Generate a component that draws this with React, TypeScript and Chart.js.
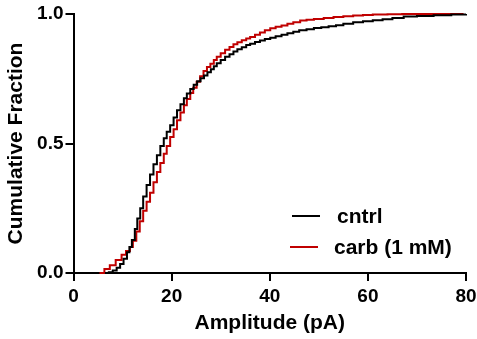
import React, { useEffect, useRef } from "react";
import { Chart, registerables } from "chart.js";

Chart.register(...registerables);

const cntrlAmp = [6.4, 7.2, 8.0, 8.8, 9.5, 10.2, 10.9, 11.4, 11.9, 12.5, 13.0, 13.6, 14.2, 14.9, 15.6, 16.3, 17.0, 17.7, 18.4, 19.0, 19.7, 20.4, 21.1, 21.8, 22.5, 23.1, 23.8, 24.5, 25.2, 25.9, 26.6, 27.3, 28.0, 28.6, 29.2, 30.0, 30.9, 31.8, 32.6, 33.4, 34.3, 35.2, 36.0, 37, 38, 39, 40.1, 41.2, 42.4, 43.6, 44.8, 46, 47.5, 49, 50.5, 52, 53.5, 55, 57, 59, 61, 63, 65, 67.3, 70, 73.4, 77, 80];
const cntrlFrac = [0, 0.003, 0.01, 0.02, 0.035, 0.055, 0.08, 0.1, 0.127, 0.17, 0.21, 0.25, 0.295, 0.34, 0.38, 0.42, 0.455, 0.49, 0.52, 0.545, 0.57, 0.6, 0.628, 0.652, 0.675, 0.693, 0.71, 0.727, 0.74, 0.752, 0.763, 0.775, 0.787, 0.798, 0.81, 0.822, 0.835, 0.845, 0.855, 0.864, 0.872, 0.88, 0.885, 0.892, 0.898, 0.903, 0.908, 0.914, 0.92, 0.926, 0.931, 0.937, 0.941, 0.946, 0.949, 0.953, 0.957, 0.962, 0.968, 0.972, 0.976, 0.98, 0.985, 0.99, 0.992, 0.995, 0.998, 1.0];
const carbAmp = [5.3, 6.3, 7.4, 8.6, 9.8, 10.7, 11.5, 12.1, 12.8, 13.5, 14.2, 14.9, 15.6, 16.3, 17.0, 17.7, 18.4, 19.0, 19.7, 20.4, 21.1, 21.8, 22.5, 23.1, 23.8, 24.4, 25.1, 25.8, 26.5, 27.2, 27.9, 28.6, 29.2, 30.0, 30.9, 31.8, 32.6, 33.4, 34.3, 35.2, 36.0, 37, 38, 39, 40.1, 41.2, 42.4, 43.6, 44.8, 46.2, 47.5, 49, 51, 53, 55, 57, 59, 61, 64, 67, 79.5];
const carbFrac = [0, 0.015, 0.03, 0.05, 0.07, 0.085, 0.1, 0.125, 0.16, 0.2, 0.24, 0.275, 0.31, 0.35, 0.39, 0.425, 0.46, 0.49, 0.525, 0.555, 0.59, 0.62, 0.648, 0.672, 0.695, 0.715, 0.738, 0.76, 0.78, 0.795, 0.808, 0.822, 0.835, 0.848, 0.862, 0.873, 0.883, 0.891, 0.899, 0.905, 0.911, 0.92, 0.929, 0.937, 0.945, 0.951, 0.956, 0.962, 0.968, 0.975, 0.978, 0.981, 0.985, 0.988, 0.991, 0.994, 0.996, 0.998, 0.999, 1.0, 1.0];
const seriesNames = ["cntrl", "carb (1 mM)"];
const seriesColors = ["#000000", "#c00000"];
const xTicks = [0, 20, 40, 60, 80];
const yTicks = [0, 0.5, 1.0];

const FONT = "'Liberation Sans', Arial, Helvetica, sans-serif";

export default function App() {
  const ref = useRef<HTMLCanvasElement | null>(null);
  useEffect(() => {
    document.body.style.margin = "0";
    const canvas = ref.current;
    if (!canvas) return;
    const legendPlugin = {
      id: "customLegend",
      afterDraw(chart: any) {
        const ctx = chart.ctx;
        ctx.save();
        const rows = [216, 247];
        seriesNames.forEach((name, i) => {
          const y = rows[i];
          ctx.strokeStyle = seriesColors[i];
          ctx.lineWidth = 2;
          ctx.beginPath();
          ctx.moveTo(i === 0 ? 292 : 290, y);
          ctx.lineTo(i === 0 ? 320 : 318, y);
          ctx.stroke();
          ctx.fillStyle = "#000";
          ctx.font = `bold 21px ${FONT}`;
          ctx.textBaseline = "middle";
          ctx.textAlign = "left";
          ctx.fillText(name, i === 0 ? 337 : 334, y + 1);
        });
        ctx.restore();
      },
    };
    const mk = (xs: number[], ys: number[], i: number) => ({
      label: seriesNames[i],
      data: xs.map((x, k) => ({ x, y: ys[k] })),
      borderColor: seriesColors[i],
      borderWidth: 2,
      pointRadius: 0,
      stepped: true,
      fill: false,
      clip: false as any,
    });
    const chart = new Chart(canvas, {
      type: "line",
      data: {
        datasets: [mk(cntrlAmp, cntrlFrac, 0), mk(carbAmp, carbFrac, 1)],
      },
      options: {
        responsive: false,
        animation: false,
        layout: { padding: { left: 0, top: 14, right: 11, bottom: 0 } },
        plugins: { legend: { display: false }, tooltip: { enabled: false } },
        scales: {
          x: {
            type: "linear",
            min: 0,
            max: 80,
            afterFit: (s: any) => { s.height = 66; s.paddingRight = 0; s.paddingLeft = 0; },
            afterBuildTicks: (s: any) => { s.ticks = xTicks.map((v) => ({ value: v })); },
            ticks: { color: "#000", font: { family: FONT, size: 19, weight: "bold" }, padding: 4, maxRotation: 0 },
            grid: { display: true, drawOnChartArea: false, drawTicks: true, tickLength: 8, color: "#000", lineWidth: 2 },
            border: { display: true, color: "#000", width: 2 },
            title: { display: true, text: "Amplitude (pA)", color: "#000", font: { family: FONT, size: 21, weight: "bold" }, padding: { top: 0, bottom: 3 } },
          },
          y: {
            type: "linear",
            min: 0,
            max: 1,
            afterFit: (s: any) => { s.width = 73.5; s.paddingTop = 0; s.paddingBottom = 0; },
            afterBuildTicks: (s: any) => { s.ticks = yTicks.map((v) => ({ value: v })); },
            ticks: { color: "#000", font: { family: FONT, size: 19, weight: "bold" }, padding: 2, callback: (v: any) => Number(v).toFixed(1) },
            grid: { display: true, drawOnChartArea: false, drawTicks: true, tickLength: 8, color: "#000", lineWidth: 2 },
            border: { display: true, color: "#000", width: 2 },
            title: { display: true, text: "Cumulative Fraction", color: "#000", font: { family: FONT, size: 21, weight: "bold" }, padding: { top: 4, bottom: 0 } },
          },
        },
      },
      plugins: [legendPlugin],
    });
    return () => chart.destroy();
  }, []);
  return (
    <div style={{ position: "absolute", left: 0, top: 0, width: 477, height: 339, background: "#fff" }}>
      <canvas ref={ref} width={477} height={339} />
    </div>
  );
}
